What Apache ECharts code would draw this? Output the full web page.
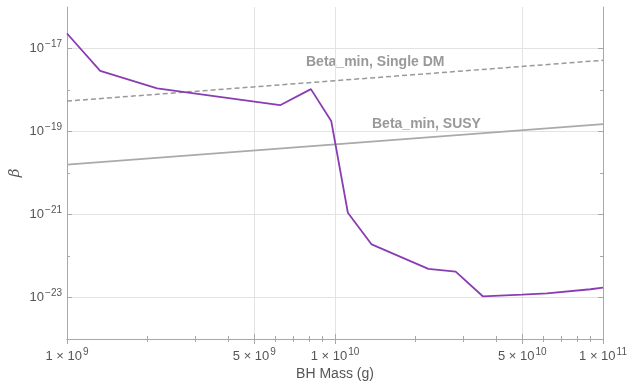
<!DOCTYPE html>
<html>
<head>
<meta charset="utf-8">
<script src="https://cdn.jsdelivr.net/npm/echarts@6/dist/echarts.min.js"></script>
<style>
  html, body { margin: 0; padding: 0; background: #fff; }
  #chart { width: 628px; height: 383px; }
</style>
</head>
<body>
<div id="chart"></div>
<script>
// purple curve
var massPoints = [1e9, 1.33e9, 2.17e9, 6.24e9, 8.13e9, 9.68e9, 1.117e10, 1.37e10, 2.23e10, 2.82e10, 3.56e10, 4.99e10, 6.18e10, 8.98e10, 1e11]
var betaPoints = [2.3e-17, 2.9e-18, 1.1e-18, 4.3e-19, 1.05e-18, 1.8e-19, 1.1e-21, 1.9e-22, 4.9e-23, 4.2e-23, 1.07e-23, 1.17e-23, 1.26e-23, 1.58e-23, 1.74e-23]

// straight reference lines (log-log)
var lineMass = [1e9, 1e11]
var singleDM = [5.4e-19, 5.2e-18]
var susy = [1.6e-20, 1.5e-19]

var xMajor = [1e9, 5e9, 1e10, 5e10, 1e11]
var xMinor = [2e9, 3e9, 4e9, 6e9, 7e9, 8e9, 9e9, 2e10, 3e10, 4e10, 6e10, 7e10, 8e10, 9e10]
var xLabels = ['1 × 10|9', '5 × 10|9', '1 × 10|10', '5 × 10|10', '1 × 10|11']
var yMajor = [1e-23, 1e-21, 1e-19, 1e-17]
var yMinor = [1e-22, 1e-20, 1e-18]
var yLabels = ['10|−23', '10|−21', '10|−19', '10|−17']

function pair(xs, ys) {
  var out = []
  for (var i = 0; i < xs.length; i++) out.push([xs[i], ys[i]])
  return out
}

function findLabel(list, labels, v) {
  for (var i = 0; i < list.length; i++) {
    if (Math.abs(Math.log10(list[i]) - Math.log10(v)) < 1e-6) return labels[i]
  }
  return ''
}

function supLabel(s) {
  if (!s) return ''
  var p = s.split('|')
  return '{b|' + p[0] + '}{s|' + p[1] + '}'
}

var frameColor = '#a8a8a8'
var gridColor = '#e3e3e3'
var labelRich = {
  b: { fontSize: 13, color: '#555', fontFamily: 'Liberation Sans' },
  s: { fontSize: 10, color: '#555', verticalAlign: 'bottom', padding: [0, 0, 8, 1], fontFamily: 'Liberation Sans' }
}

function xAxisDef(pos, major, ticks, showLabel) {
  return {
    type: 'log', logBase: 10, min: 1e9, max: 1e11, position: pos,
    axisLine: { show: major, lineStyle: { color: frameColor } },
    axisTick: { show: true, inside: true, length: major ? 5 : 3, customValues: ticks, lineStyle: { color: frameColor } },
    splitLine: { show: major && pos === 'bottom', lineStyle: { color: gridColor } },
    axisLabel: showLabel ? {
      show: true, margin: 8, customValues: xMajor, rich: labelRich,
      formatter: function (v) { return supLabel(findLabel(xMajor, xLabels, v)) }
    } : { show: false },
    name: showLabel ? 'BH Mass (g)' : '',
    nameLocation: 'middle', nameGap: 26,
    nameTextStyle: { fontSize: 14, color: '#555', fontFamily: 'Liberation Sans' }
  }
}

function yAxisDef(pos, major, ticks, showLabel) {
  return {
    type: 'log', logBase: 10, min: 1e-24, max: 1e-16, position: pos,
    axisLine: { show: major, lineStyle: { color: frameColor } },
    axisTick: { show: true, inside: true, length: major ? 5 : 3, customValues: ticks, lineStyle: { color: frameColor } },
    splitLine: { show: major && pos === 'left', lineStyle: { color: gridColor } },
    axisLabel: showLabel ? {
      show: true, margin: 5, customValues: yMajor, rich: labelRich,
      formatter: function (v) { return supLabel(findLabel(yMajor, yLabels, v)) }
    } : { show: false },
    name: showLabel ? 'β' : '',
    nameLocation: 'middle', nameGap: 44, nameMoveOverlap: false,
    nameTextStyle: { fontSize: 15, fontStyle: 'italic', color: '#555', fontFamily: 'DejaVu Serif' }
  }
}

var chart = echarts.init(document.getElementById('chart'))
chart.setOption({
  animation: false,
  grid: { left: 67, right: 25, top: 7, bottom: 44, outerBoundsMode: 'none' },
  xAxis: [
    xAxisDef('bottom', true, xMajor, true),
    xAxisDef('bottom', false, xMinor, false),
    xAxisDef('top', true, xMajor, false),
    xAxisDef('top', false, xMinor, false)
  ],
  yAxis: [
    yAxisDef('left', true, yMajor, true),
    yAxisDef('left', false, yMinor, false),
    yAxisDef('right', true, yMajor, false),
    yAxisDef('right', false, yMinor, false)
  ],
  graphic: [
    { type: 'text', left: 306, top: 55, style: { text: 'Beta_min, Single DM', fill: '#999', font: 'bold 14px Liberation Sans' } },
    { type: 'text', left: 372, top: 117, style: { text: 'Beta_min, SUSY', fill: '#999', font: 'bold 14px Liberation Sans' } }
  ],
  series: [
    {
      name: 'Single DM', type: 'line', showSymbol: false,
      lineStyle: { color: '#999', width: 1.5, type: [5, 3] },
      data: pair(lineMass, singleDM)
    },
    {
      name: 'SUSY', type: 'line', showSymbol: false,
      lineStyle: { color: '#aaa', width: 1.8 },
      data: pair(lineMass, susy)
    },
    {
      name: 'beta', type: 'line', showSymbol: false,
      lineStyle: { color: '#8a3db3', width: 1.8 },
      data: pair(massPoints, betaPoints)
    }
  ]
})
</script>
</body>
</html>
